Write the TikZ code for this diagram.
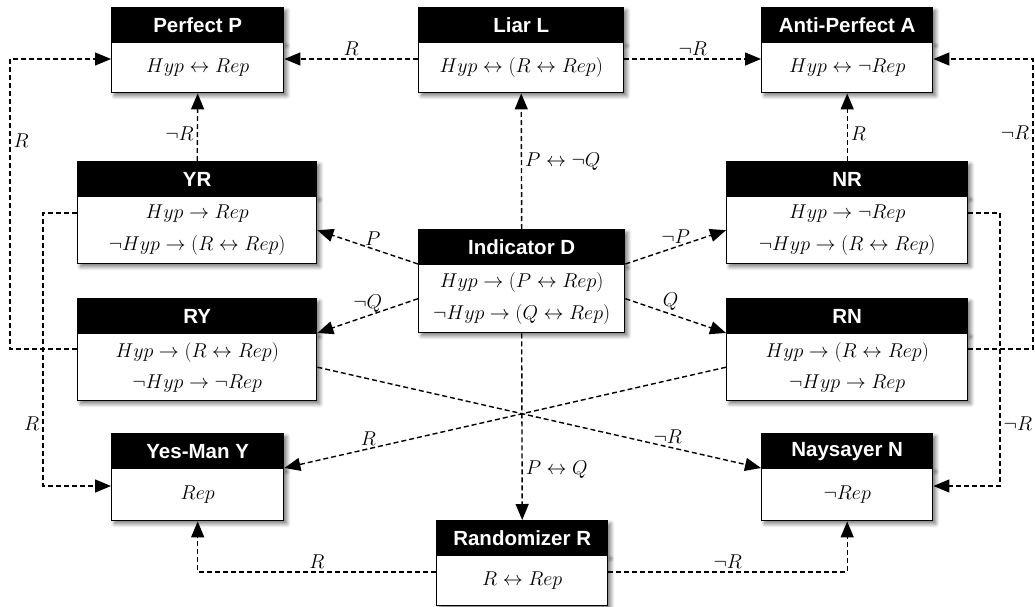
\RequirePackage{fix-cm}
\documentclass[tikz,border=0pt]{standalone}
\usepackage{fontspec}
\newfontfamily\hfont{Liberation Sans}
\usetikzlibrary{arrows.meta,shadows.blur,calc}
\begin{document}
\begin{tikzpicture}[x=1pt,y=-1pt,
  shad/.style={blur shadow={shadow blur steps=8,shadow blur radius=4pt,shadow xshift=3pt,shadow yshift=-3pt,shadow opacity=55}},
  head/.style={shad,fill=black,draw=black,line width=1.4pt,text=white,inner sep=0pt,
    font=\hfont\bfseries\fontsize{20.5}{24}\selectfont,minimum height=35pt,anchor=north west},
  body/.style={shad,fill=white,draw=black,line width=1.4pt,inner sep=0pt,align=center,
    font=\fontsize{20}{31.5}\selectfont,anchor=north west},
  one/.style={minimum height=50pt},
  two/.style={minimum height=67pt},
  conn/.style={draw,line width=1.4pt,dash pattern=on 5pt off 3pt,-{Triangle[length=16pt,width=13pt]}},
  lab/.style={font=\fontsize{20}{24}\selectfont,inner sep=3pt}
]
\useasboundingbox (0,0) rectangle (1035,607);
% boxes
\node[head,minimum width=172pt] (Ph) at (111,7) {Perfect P};
\node[body,one,minimum width=172pt] (P) at (111,42) {$Hyp \leftrightarrow Rep$};
\node[head,minimum width=205pt] (Lh) at (418,7) {Liar L};
\node[body,one,minimum width=205pt] (L) at (418,42) {$Hyp \leftrightarrow (R \leftrightarrow Rep)$};
\node[head,minimum width=171pt] (Ah) at (761,7) {Anti-Perfect A};
\node[body,one,minimum width=171pt] (A) at (761,42) {$Hyp \leftrightarrow \neg Rep$};

\node[head,minimum width=239pt] (YRh) at (77,161) {YR};
\node[body,two,minimum width=239pt] (YR) at (77,196) {$Hyp \rightarrow Rep$\\$\neg Hyp \rightarrow (R \leftrightarrow Rep)$};
\node[head,minimum width=239pt] (RYh) at (77,298) {RY};
\node[body,two,minimum width=239pt] (RY) at (77,333) {$Hyp \rightarrow (R \leftrightarrow Rep)$\\$\neg Hyp \rightarrow \neg Rep$};

\node[head,minimum width=241pt] (NRh) at (726,161) {NR};
\node[body,two,minimum width=241pt] (NR) at (726,196) {$Hyp \rightarrow \neg Rep$\\$\neg Hyp \rightarrow (R \leftrightarrow Rep)$};
\node[head,minimum width=241pt] (RNh) at (726,298) {RN};
\node[body,two,minimum width=241pt] (RN) at (726,333) {$Hyp \rightarrow (R \leftrightarrow Rep)$\\$\neg Hyp \rightarrow Rep$};

\node[head,minimum width=206pt] (Dh) at (418,229) {Indicator D};
\node[body,two,minimum width=206pt,minimum height=68pt] (D) at (418,264) {$Hyp \rightarrow (P \leftrightarrow Rep)$\\$\neg Hyp \rightarrow (Q \leftrightarrow Rep)$};

\node[head,minimum width=172pt] (Yh) at (111,433) {Yes-Man Y};
\node[body,one,minimum width=172pt,minimum height=52pt] (Y) at (111,468) {$Rep$};
\node[head,minimum width=171pt] (Nh) at (761,433) {Naysayer N};
\node[body,one,minimum width=171pt,minimum height=52pt] (N) at (761,468) {$\neg Rep$};
\node[head,minimum width=171pt] (Rh) at (436,520) {Randomizer R};
\node[body,one,minimum width=171pt] (R) at (436,555) {$R \leftrightarrow Rep$};

% helper coordinates for loops
\coordinate (xl0) at (10,0);
\coordinate (xl1) at (43,0);
\coordinate (xr1) at (1000,0);
\coordinate (xr0) at (1033,0);
\coordinate (pa) at ([yshift=-17pt]P.north west);
\coordinate (aa) at ([yshift=-17pt]A.north east);
\coordinate (yra) at ([yshift=-17pt]YR.north west);
\coordinate (rya) at ([yshift=-16pt]RY.north west);
\coordinate (nra) at ([yshift=-17pt]NR.north east);
\coordinate (rna) at ([yshift=-16pt]RN.north east);
\coordinate (ya) at ([yshift=-18pt]Y.north west);
\coordinate (na) at ([yshift=-18pt]N.north east);

% connectors
\draw[conn] ([yshift=-17pt]L.north west) -- node[lab,above]{$R$} ([yshift=-17pt]P.north east);
\draw[conn] ([yshift=-17pt]L.north east) -- node[lab,above]{$\neg R$} ([yshift=-17pt]A.north west);
\draw[conn] (Dh.north) -- node[lab,right,pos=0.5]{$P \leftrightarrow \neg Q$} (L.south);
\draw[conn] (YRh.north) -- node[lab,left,pos=0.4]{$\neg R$} (P.south);
\draw[conn] (NRh.north) -- node[lab,right,pos=0.4]{$R$} (A.south);
\draw[conn] (D.north west) -- node[lab,above,pos=0.45]{$P$} (YR.east);
\draw[conn] (D.west) -- node[lab,above,pos=0.5]{$\neg Q$} (RY.north east);
\draw[conn] (D.north east) -- node[lab,above,pos=0.5]{$\neg P$} (NR.west);
\draw[conn] (D.east) -- node[lab,above,pos=0.45]{$Q$} (RN.north west);
\draw[conn] (RY.east) -- node[lab,above,pos=0.79]{$\neg R$} (N.north west);
\draw[conn] (RN.west) -- node[lab,above,pos=0.81]{$R$} (Y.north east);
\draw[conn] (D.south) -- node[lab,right,pos=0.73]{$P \leftrightarrow Q$} (Rh.north);
\draw[conn] ([yshift=-17pt]R.north west) -| node[lab,above,pos=0.25]{$R$} (Y.south);
\draw[conn] ([yshift=-17pt]R.north east) -| node[lab,above,pos=0.25]{$\neg R$} (N.south);
\draw[conn] (yra) -- (yra -| xl1) -- node[lab,left,pos=0.77]{$R$} (xl1 |- ya) -- (ya);
\draw[conn] (rya) -- (rya -| xl0) -- node[lab,right,pos=0.72]{$R$} (xl0 |- pa) -- (pa);
\draw[conn] (nra) -- (nra -| xr1) -- node[lab,right,pos=0.77]{$\neg R$} (xr1 |- na) -- (na);
\draw[conn] (rna) -- (rna -| xr0) -- node[lab,left,pos=0.745]{$\neg R$} (xr0 |- aa) -- (aa);
\end{tikzpicture}
\end{document}
